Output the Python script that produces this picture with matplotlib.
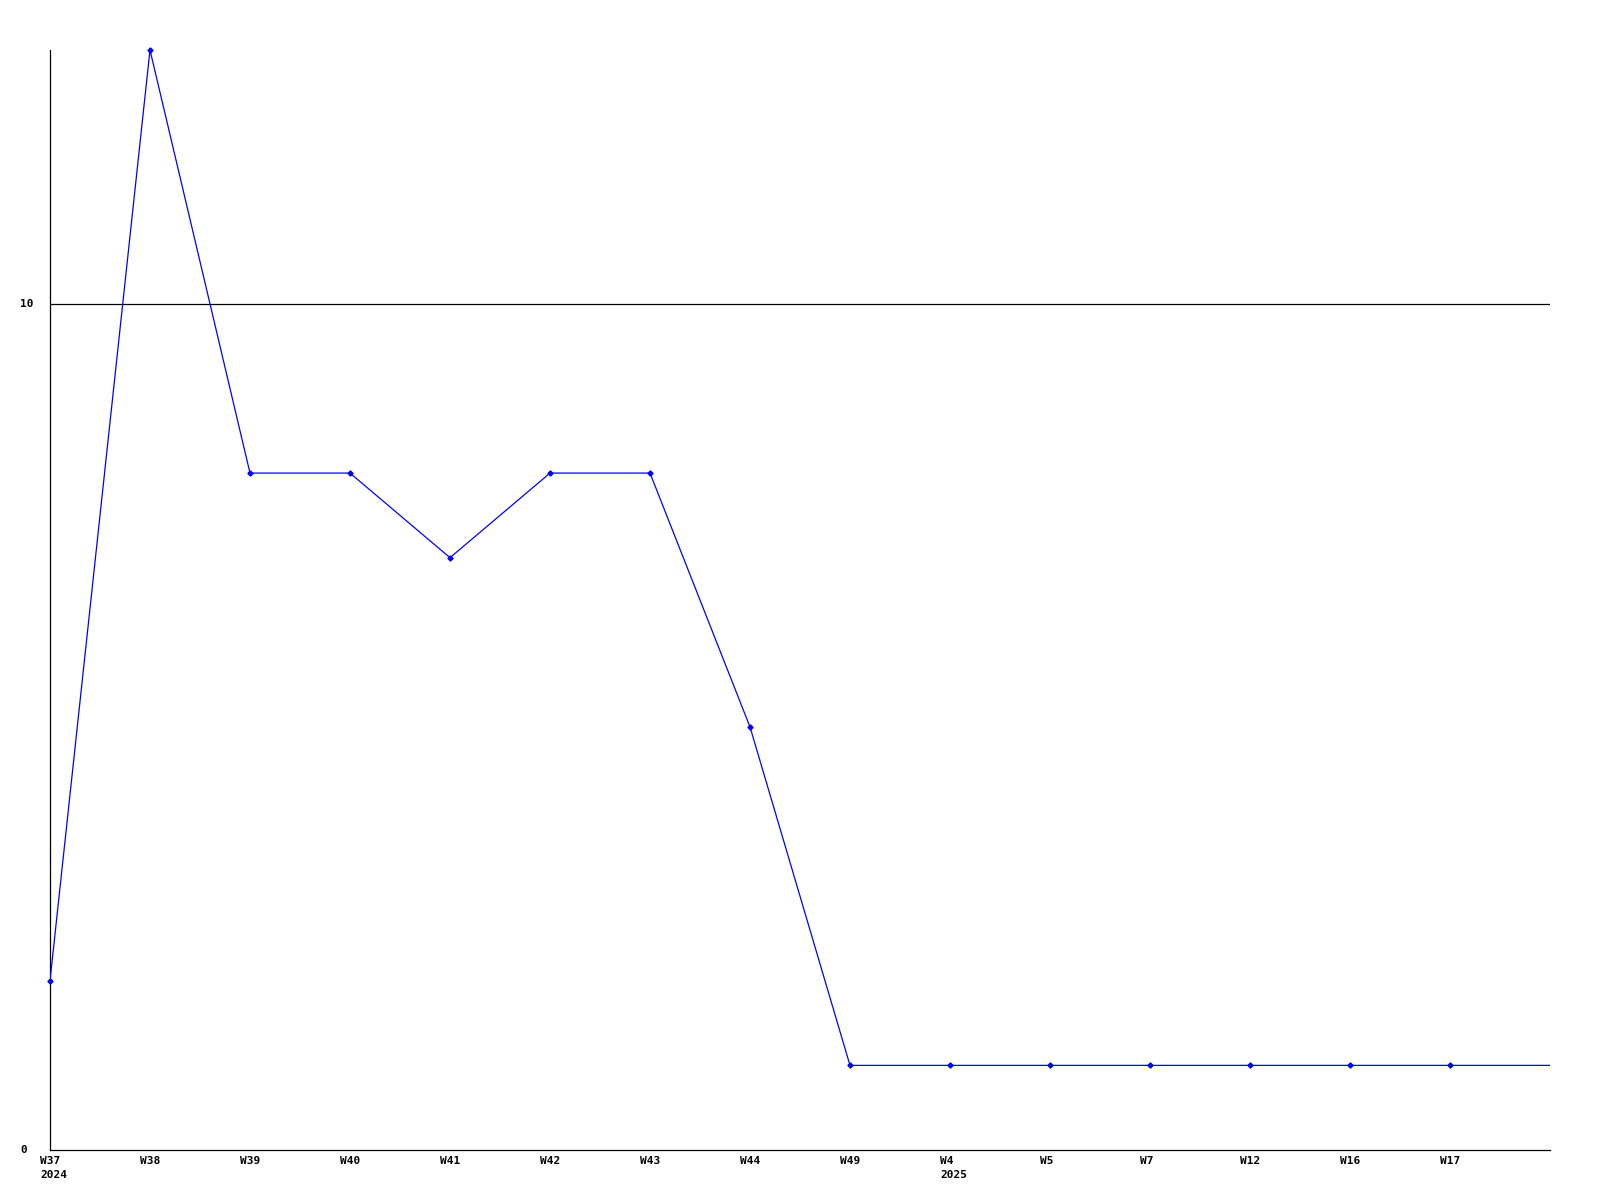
import matplotlib
matplotlib.use("Agg")
import matplotlib.pyplot as plt
import matplotlib.transforms as mtransforms

# Weekly counts
weeks = ["W37", "W38", "W39", "W40", "W41", "W42", "W43", "W44",
         "W49", "W4", "W5", "W7", "W12", "W16", "W17"]
years = {"W37": "2024", "W4": "2025"}
counts = [2, 13, 8, 8, 7, 8, 8, 5, 1, 1, 1, 1, 1, 1, 1]
y_ticks = [0, 10]

fig = plt.figure(figsize=(16, 12), dpi=100)
ax = fig.add_axes([50 / 1600, 50 / 1200, 1500 / 1600, 1100 / 1200])

xs = list(range(len(weeks)))
# line continues flat to the right edge
ax.plot(xs + [len(weeks)], counts + [counts[-1]], color="#0000ff", lw=0.9, zorder=3)
ax.plot(xs, counts, ls="none", marker="D", ms=2.6, color="#0000ff",
        zorder=4, clip_on=False)

ax.set_xlim(0, len(weeks))
ax.set_ylim(0, 13)

# horizontal reference line at 10
ax.axhline(10, color="black", lw=0.9, zorder=2)

for s in ["top", "right"]:
    ax.spines[s].set_visible(False)
for s in ["left", "bottom"]:
    ax.spines[s].set_linewidth(0.9)

mono = dict(family="DejaVu Sans Mono", fontweight="bold", fontsize=8)

ax.set_xticks([])
ax.set_yticks([])
off_x = mtransforms.ScaledTranslation(-10 / 100, -6 / 100, fig.dpi_scale_trans)
for i, w in enumerate(weeks):
    label = w + ("\n" + years[w] if w in years else "")
    ax.text(i, 0, label, transform=ax.get_xaxis_transform() + off_x,
            ha="left", va="top", linespacing=1.5, **mono)

off_y = mtransforms.ScaledTranslation(-30 / 100, 0, fig.dpi_scale_trans)
for v in y_ticks:
    ax.text(0, v, str(v), transform=ax.get_yaxis_transform() + off_y,
            ha="left", va="center", **mono)

plt.savefig("out.png", dpi=100)
plt.close()
